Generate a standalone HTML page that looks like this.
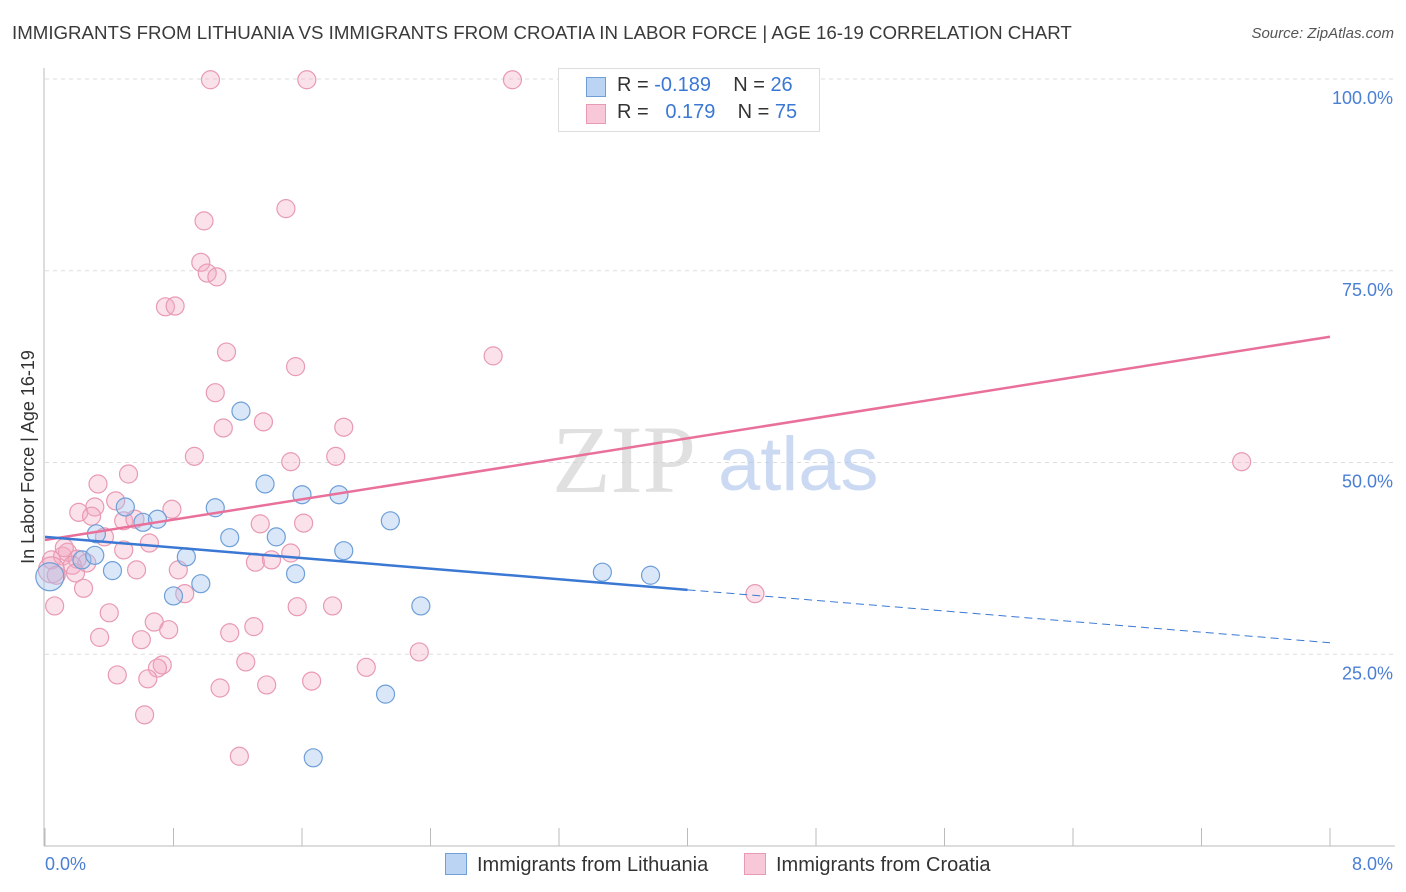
<!DOCTYPE html>
<html><head><meta charset="utf-8"><style>
body{margin:0;background:#fff;font-family:"Liberation Sans",sans-serif;}
#wrap{position:relative;width:1406px;height:892px;overflow:hidden;}
.t{position:absolute;white-space:nowrap;}
</style></head><body>
<div id="wrap">
<div class="t" style="left:12px;top:22px;font-size:18.7px;color:#3a3a3a;">IMMIGRANTS FROM LITHUANIA VS IMMIGRANTS FROM CROATIA IN LABOR FORCE | AGE 16-19 CORRELATION CHART</div>
<div class="t" style="right:12px;top:25px;font-size:15px;color:#555;font-style:italic;">Source: ZipAtlas.com</div>
<svg id="svg" width="1406" height="892" style="position:absolute;left:0;top:0"></svg>
</div>
<script>
const xTicks=[0,0.8,1.6,2.4,3.2,4.0,4.8,5.6,6.4,7.2,8.0];
const yTicks=[25,50,75,100];
const yTickLabels=["25.0%","50.0%","75.0%","100.0%"];
const xEndLabels=["0.0%","8.0%"];
const blueX=[0.03,0.32,0.42,0.50,0.61,0.70,0.80,0.88,0.97,1.06,1.15,1.22,1.37,1.44,1.56,1.60,1.67,1.83,1.86,2.12,2.15,2.34,3.47,3.77,0.23,0.31];
const blueY=[35.1,40.7,35.9,44.2,42.2,42.6,32.6,37.7,34.2,44.1,40.2,56.7,47.2,40.3,35.5,45.8,11.5,45.8,38.5,19.8,42.4,31.3,35.7,35.3,37.3,37.9];
const pinkX=[1.03,1.63,2.91,1.50,0.99,0.97,1.01,1.07,0.75,0.81,1.13,2.79,1.56,1.06,1.36,1.11,1.86,0.93,1.53,1.81,7.45,0.52,0.33,0.44,0.31,0.21,0.29,0.49,0.79,0.56,0.37,0.65,1.34,1.61,0.49,1.53,0.04,0.11,0.14,0.20,0.26,0.17,1.31,1.41,0.57,0.83,0.19,0.24,0.87,0.06,0.40,1.57,1.79,4.42,0.68,0.77,0.34,0.60,1.15,1.30,2.33,1.25,2.00,0.73,0.70,0.45,0.64,1.38,1.66,1.09,0.62,1.21,0.04,0.07,0.12];
const pinkY=[99.9,99.9,99.9,83.1,81.5,76.1,74.7,74.2,70.3,70.4,64.4,63.9,62.5,59.1,55.3,54.5,54.6,50.8,50.1,50.8,50.1,48.5,47.2,45.0,44.2,43.5,43.0,42.4,43.9,42.6,40.3,39.5,42.0,42.1,38.6,38.2,37.3,37.8,38.3,37.4,36.9,36.6,37.0,37.3,36.0,36.0,35.6,33.6,32.9,31.3,30.4,31.2,31.3,32.9,29.2,28.2,27.2,26.9,27.8,28.6,25.3,24.0,23.3,23.6,23.2,22.3,21.8,21.0,21.5,20.6,17.1,11.7,36.0,35.3,38.9];
const pinkTrend=[39.9,66.4];
const blueTrend=[40.3,26.5];
const blueSolidEnd=4.0;
const X=v=>45+v/8*1285;
const Y=v=>846-v*7.67;
const svg=document.getElementById('svg');
const NS='http://www.w3.org/2000/svg';
function mk(tag,attrs){const e=document.createElementNS(NS,tag);for(const k in attrs)e.setAttribute(k,attrs[k]);svg.appendChild(e);return e;}
yTicks.forEach((t,i)=>{
  const l=mk('line',{x1:45,x2:1395,y1:Y(t),y2:Y(t),stroke:'#ddd','stroke-dasharray':'4,4'});
  
  
  const tx=mk('text',{x:1393,y:Y(t)+25,'text-anchor':'end','font-size':18,fill:'#4a7fd4'});
  tx.textContent=yTickLabels[i];
  
  
});
const ax=mk('line',{x1:44,x2:44,y1:68,y2:846,stroke:'#bbb'});


const bx=mk('line',{x1:44,x2:1395,y1:846,y2:846,stroke:'#bbb'});


xTicks.forEach(t=>{const l=mk('line',{x1:X(t),x2:X(t),y1:828,y2:846,stroke:'#bbb'});
  
  });
const xl0=mk('text',{x:45,y:870,'font-size':18,fill:'#4a7fd4'});xl0.textContent=xEndLabels[0];


const xl1=mk('text',{x:1393,y:870,'text-anchor':'end','font-size':18,fill:'#4a7fd4'});xl1.textContent=xEndLabels[1];


const yt=mk('text',{x:34,y:457,'text-anchor':'middle','font-size':18,fill:'#333',transform:'rotate(-90 34 457)'});yt.textContent='In Labor Force | Age 16-19';


const wm1=mk('text',{x:552,y:492,'font-size':96,fill:'#ccc','font-family':'Liberation Serif',opacity:0.6});wm1.textContent='ZIP';


const wm2=mk('text',{x:718,y:490,'font-size':76,fill:'#a9c3ea',opacity:0.6});wm2.textContent='atlas';


pinkX.forEach((x,i)=>{const big=(i===pinkX.length-3);const c=mk('circle',{cx:X(x),cy:Y(pinkY[i]),r:big?13:9,fill:'rgba(244,170,195,0.35)',stroke:'#e89ab3','stroke-width':1.2});
  
  });
blueX.forEach((x,i)=>{const c=mk('circle',{cx:X(x),cy:Y(blueY[i]),r:i===0?14:9,fill:'rgba(160,195,240,0.4)',stroke:'#6e9fd8','stroke-width':1.2});
  
  });
const bt=v=>blueTrend[0]+(blueTrend[1]-blueTrend[0])*v/8;
const l1=mk('line',{x1:X(0),y1:Y(pinkTrend[0]),x2:X(8),y2:Y(pinkTrend[1]),stroke:'#e8709a','stroke-width':2.5});


const l2=mk('line',{x1:X(0),y1:Y(bt(0)),x2:X(blueSolidEnd),y2:Y(bt(blueSolidEnd)),stroke:'#3a78d4','stroke-width':2.5});


const l3=mk('line',{x1:X(blueSolidEnd),y1:Y(bt(blueSolidEnd)),x2:X(8),y2:Y(bt(8)),stroke:'#3a78d4','stroke-width':1,'stroke-dasharray':'8,5'});


</script>
<div class="t" style="left:558px;top:68px;width:260px;height:62px;border:1px solid #ddd;background:#fff;font-size:20px;color:#333;">
 <div style="position:absolute;left:27px;top:8px;width:18px;height:18px;background:#bcd4f4;border:1px solid #6e9fd8"></div>
 <div style="position:absolute;left:58px;top:5px">R = <span style="color:#3a78d4">-0.189</span>&nbsp;&nbsp;&nbsp; N = <span style="color:#3a78d4">26</span></div>
 <div style="position:absolute;left:27px;top:35px;width:18px;height:18px;background:#f8c8d8;border:1px solid #e89ab3"></div>
 <div style="position:absolute;left:58px;top:32px">R = &nbsp;&nbsp;<span style="color:#3a78d4">0.179</span>&nbsp;&nbsp;&nbsp; N = <span style="color:#3a78d4">75</span></div>
</div>
<div class="t" style="left:445px;top:853px;font-size:20px;color:#333;"><span style="display:inline-block;width:20px;height:20px;background:#bcd4f4;border:1px solid #6e9fd8;vertical-align:-4px;margin-right:10px"></span>Immigrants from Lithuania</div>
<div class="t" style="left:744px;top:853px;font-size:20px;color:#333;"><span style="display:inline-block;width:20px;height:20px;background:#f8c8d8;border:1px solid #e89ab3;vertical-align:-4px;margin-right:10px"></span>Immigrants from Croatia</div>
</body></html>
